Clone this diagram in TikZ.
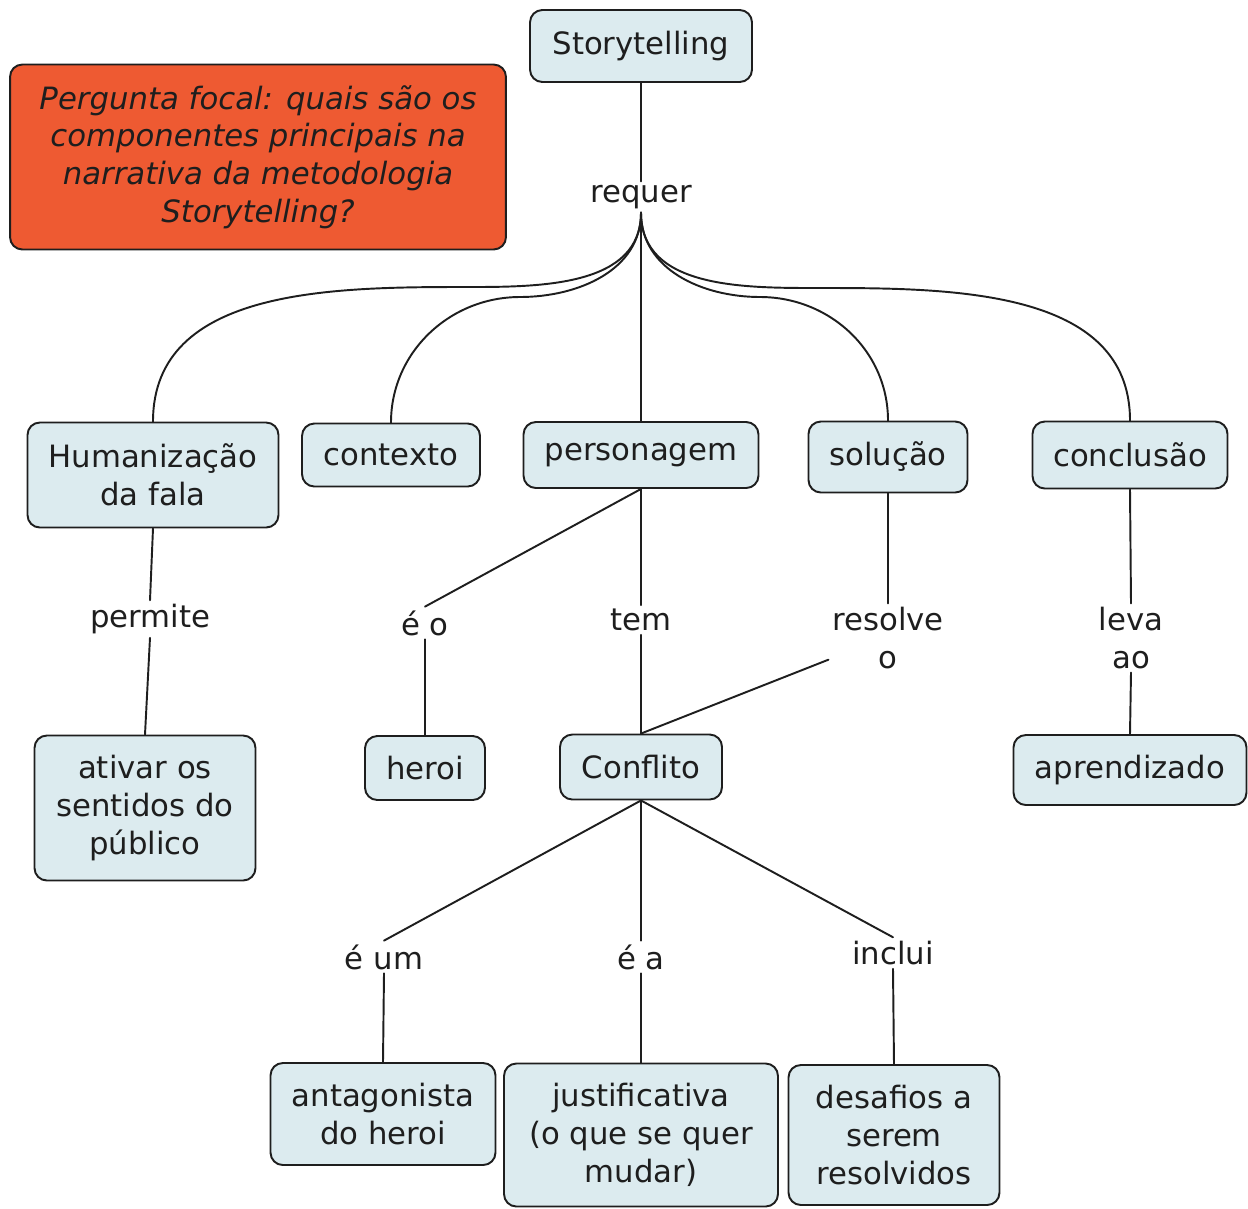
\documentclass[tikz,border=0pt]{standalone}
\usepackage{fontspec}
\setmainfont{DejaVu Sans}
\definecolor{boxfill}{HTML}{DCEBEF}
\definecolor{focalfill}{HTML}{EE5A32}
\definecolor{ink}{HTML}{1E1E1E}
\begin{document}
\begin{tikzpicture}[x=0.02cm, y=-0.02cm, line join=round, line cap=round,
	font=\fontsize{17.5}{21.5}\selectfont, text=ink,
	concept/.style={draw=ink, fill=boxfill, line width=1.1pt, rounded corners=7pt, align=center, inner sep=4pt},
	focal/.style={concept, fill=focalfill, font=\fontsize{17.5}{21.5}\selectfont\itshape},
	linking/.style={align=center, inner sep=2pt},
	link/.style={draw=ink, line width=1.1pt}]
	\useasboundingbox (0,0) rectangle (1248,1208);
	\node[focal, minimum width=9.92cm, minimum height=3.7cm] (focal) at (258,157) {Pergunta focal: quais são os\\componentes principais na\\narrativa da metodologia\\Storytelling?};
	\node[concept, minimum width=4.44cm, minimum height=1.44cm] (story) at (641,46) {Storytelling};
	\node[linking] (requer) at (641,197) {requer};
	\node[concept, minimum width=5.02cm, minimum height=2.1cm] (human) at (153,475) {Humanização\\da fala};
	\node[concept, minimum width=3.56cm, minimum height=1.26cm] (contexto) at (391,455) {contexto};
	\node[concept, minimum width=4.7cm, minimum height=1.32cm] (personagem) at (641,455) {personagem};
	\node[concept, minimum width=3.18cm, minimum height=1.42cm] (solucao) at (888,457) {solução};
	\node[concept, minimum width=3.9cm, minimum height=1.34cm] (conclusao) at (1130,455) {conclusão};
	\node[linking] (permite) at (150,619) {permite};
	\node[linking] (eo) at (425,623) {é o};
	\node[linking] (tem) at (641,620) {tem};
	\node[linking] (resolve) at (888,638) {resolve\\o};
	\node[linking] (leva) at (1131,638) {leva\\ao};
	\node[concept, minimum width=4.42cm, minimum height=2.9cm] (ativar) at (145,808) {ativar os\\sentidos do\\público};
	\node[concept, minimum width=2.4cm, minimum height=1.28cm] (heroi) at (425,768) {heroi};
	\node[concept, minimum width=3.24cm, minimum height=1.3cm] (conflito) at (641,767) {Conflito};
	\node[concept, minimum width=4.66cm, minimum height=1.4cm] (aprendizado) at (1130,770) {aprendizado};
	\node[linking] (eum) at (384,957) {é um};
	\node[linking] (ea) at (641,957) {é a};
	\node[linking] (inclui) at (893,953) {inclui};
	\node[concept, minimum width=4.5cm, minimum height=2.04cm] (antagonista) at (383,1114) {antagonista\\do heroi};
	\node[concept, minimum width=5.48cm, minimum height=2.86cm] (justificativa) at (641,1135) {justificativa\\(o que se quer\\mudar)};
	\node[concept, minimum width=4.22cm, minimum height=2.8cm] (desafios) at (894,1135) {desafios a\\serem\\resolvidos};
	% requer
	\draw[link] (story.south) -- (requer.north);
	\draw[link] (requer.south) to[out=-90, in=0] (470,287) to[out=180, in=90] (human.north);
	\draw[link] (requer.south) to[out=-90, in=0] (520,297) to[out=180, in=90] (contexto.north);
	\draw[link] (requer.south) -- (personagem.north);
	\draw[link] (requer.south) to[out=-90, in=180] (760,297) to[out=0, in=90] (solucao.north);
	\draw[link] (requer.south) to[out=-90, in=180] (820,288) to[out=0, in=90] (conclusao.north);
	% second level
	\draw[link] (human.south) -- (permite.north);
	\draw[link] (permite.south) -- (ativar.north);
	\draw[link] (personagem.south) -- (eo.north);
	\draw[link] (eo.south) -- (heroi.north);
	\draw[link] (personagem.south) -- (tem.north);
	\draw[link] (tem.south) -- (conflito.north);
	\draw[link] (solucao.south) -- (resolve.north);
	\draw[link] (resolve.200) -- (conflito.north);
	\draw[link] (conclusao.south) -- (leva.north);
	\draw[link] (leva.south) -- (aprendizado.north);
	% conflito
	\draw[link] (conflito.south) -- (eum.north);
	\draw[link] (eum.south) -- (antagonista.north);
	\draw[link] (conflito.south) -- (ea.north);
	\draw[link] (ea.south) -- (justificativa.north);
	\draw[link] (conflito.south) -- (inclui.north);
	\draw[link] (inclui.south) -- (desafios.north);
\end{tikzpicture}
\end{document}
